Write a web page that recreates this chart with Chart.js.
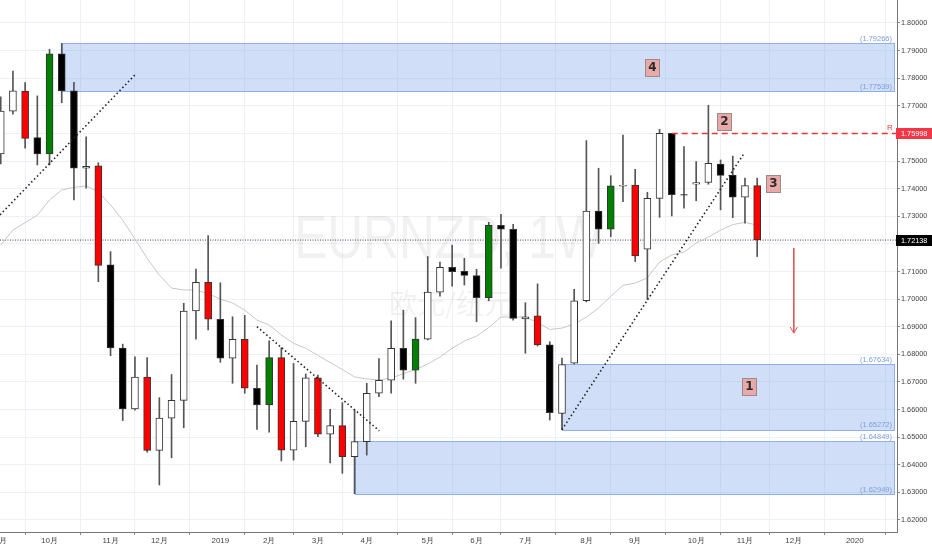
<!DOCTYPE html>
<html>
<head>
<meta charset="utf-8">
<script src="https://cdn.jsdelivr.net/npm/chart.js@4.4.0/dist/chart.umd.min.js"></script>
<style>
html, body { margin: 0; padding: 0; background: #fff; }
#wrap { width: 932px; height: 550px; }
</style>
</head>
<body>
<div id="wrap"><canvas id="chart" width="932" height="550"></canvas></div>
<script>
// weekly EURNZD candles, Sep 2018 -> Nov 2019
const opens  = [1.7526,1.7681,1.7753,1.7585,1.7526,1.7888,1.7754,1.7474,1.7483,1.7124,
                1.6823,1.6602,1.6718,1.6452,1.6569,1.6633,1.6957,1.7061,1.6927,1.6786,
                1.6854,1.6677,1.6617,1.6788,1.6453,1.6557,1.6715,1.6511,1.6542,1.6429,
                1.6484,1.6659,1.6706,1.6822,1.6743,1.6855,1.7025,1.7115,1.7101,1.7085,
                1.7005,1.7267,1.7253,1.6928,1.6939,1.6834,1.6586,1.6768,1.6994,1.7319,
                1.7253,1.7409,1.7413,1.7181,1.7365,1.7600,1.7379,1.7416,1.7423,1.7489,
                1.7449,1.7369,1.7411];
const highs  = [1.7733,1.7826,1.7784,1.7736,1.7905,1.7926,1.7785,1.7588,1.7494,1.7172,
                1.6837,1.6791,1.6788,1.6643,1.6727,1.6985,1.7109,1.7230,1.7059,1.6936,
                1.6941,1.6761,1.6849,1.6824,1.6767,1.6729,1.6725,1.6601,1.6625,1.6598,
                1.6695,1.6785,1.6921,1.6960,1.6933,1.7154,1.7134,1.7196,1.7148,1.7108,
                1.7278,1.7307,1.7271,1.6987,1.7055,1.6846,1.6786,1.7035,1.7574,1.7474,
                1.7447,1.7594,1.7470,1.7387,1.7615,1.7600,1.7552,1.7498,1.7702,1.7504,
                1.7518,1.7438,1.7438];
const lows   = [1.7490,1.7670,1.7547,1.7486,1.7486,1.7711,1.7359,1.7402,1.7063,1.6795,
                1.6560,1.6598,1.6446,1.6327,1.6425,1.6534,1.6855,1.6888,1.6771,1.6695,
                1.6659,1.6528,1.6518,1.6414,1.6417,1.6465,1.6502,1.6407,1.6369,1.6295,
                1.6435,1.6647,1.6659,1.6710,1.6695,1.6852,1.7011,1.7047,1.7051,1.6918,
                1.6994,1.7112,1.6924,1.6804,1.6830,1.6562,1.6527,1.6765,1.6990,1.7202,
                1.7226,1.7353,1.7136,1.6999,1.7296,1.7301,1.7329,1.7356,1.7416,1.7323,
                1.7295,1.7275,1.7154];
const closes = [1.7681,1.7754,1.7582,1.7526,1.7888,1.7754,1.7474,1.7481,1.7122,1.6823,
                1.6602,1.6718,1.6452,1.6569,1.6633,1.6957,1.7061,1.6927,1.6786,1.6854,
                1.6677,1.6617,1.6788,1.6453,1.6557,1.6715,1.6511,1.6542,1.6429,1.6484,
                1.6659,1.6706,1.6822,1.6743,1.6855,1.7025,1.7115,1.7099,1.7086,1.7005,
                1.7267,1.7253,1.6930,1.6936,1.6834,1.6589,1.6763,1.6994,1.7319,1.7253,
                1.7410,1.7412,1.7156,1.7365,1.7600,1.7378,1.7376,1.7422,1.7492,1.7448,
                1.7369,1.7411,1.7214];
// grey moving average
const maLine = [1.7196,1.7250,1.7277,1.7304,1.7359,1.7395,1.7405,1.7410,1.7388,1.7341,
                1.7286,1.7218,1.7148,1.7087,1.7040,1.7033,1.7033,1.7020,1.7000,1.6986,
                1.6960,1.6924,1.6906,1.6870,1.6840,1.6822,1.6796,1.6770,1.6745,1.6718,
                1.6711,1.6707,1.6714,1.6730,1.6745,1.6765,1.6790,1.6822,1.6848,1.6866,
                1.6897,1.6935,1.6935,1.6935,1.6915,1.6890,1.6895,1.6910,1.6935,1.6968,
                1.7010,1.7050,1.7058,1.7077,1.7134,1.7160,1.7170,1.7203,1.7225,1.7250,
                1.7270,1.7278,1.7268];
// highlighted weeks
const redWeeks   = [2, 8, 12, 17, 20, 23, 26, 28, 44, 52, 62];
const greenWeeks = [4, 22, 34, 40, 50];

const monthIdx = [0, 4, 9, 13, 18, 22, 26, 30, 35, 39, 43, 48, 52, 57, 61, 65, 70];
const monthLbl = ['9月','10月','11月','12月','2019','2月','3月','4月','5月','6月','7月','8月','9月','10月','11月','12月','2020'];
const yTicks = [1.62,1.63,1.64,1.65,1.66,1.67,1.68,1.69,1.70,1.71,1.72,1.73,1.74,1.75,1.76,1.77,1.78,1.79,1.80];

// drawn zones and notes
const zoneStart = [5, 46, 29];
const zoneLow   = [1.77539, 1.65272, 1.62949];
const zoneHigh  = [1.79266, 1.67634, 1.64849];
const trendA = [[-0.06, 1.7305], [11, 1.7812]];
const trendB = [[21, 1.6900], [31.03, 1.6523]];
const trendC = [[46, 1.6527], [60.9, 1.7526]];
const resistStart = 55, resistLevel = 1.75998;
const lastPrice = 1.72138;
const arrowIdx = 65, arrowFrom = 1.7185, arrowTo = 1.6877;
const tagText = ['4', '1', '2', '3'];
const tagIdx  = [53.38, 61.3, 59.3, 63.3];
const tagVal  = [1.7839, 1.6687, 1.7645, 1.7419];

const X_MIN = -0.06, X_MAX = 73.46;
const Y_MIN = 1.61565, Y_MAX = 1.80833;
const AXIS_FONT = '"Liberation Sans", Arial, sans-serif';

const bodyColor = opens.map((o, i) => {
  if (redWeeks.includes(i)) return '#ff0000';
  if (greenWeeks.includes(i)) return '#008000';
  return closes[i] >= o ? '#ffffff' : '#000000';
});

const pts = arr => arr.map(p => ({x: p[0], y: p[1]}));

const overlay = {
  id: 'overlay',
  beforeDatasetsDraw(chart) {
    const {ctx, chartArea: a, scales: {x, y}} = chart;
    const mid = (a.left + a.right) / 2;
    ctx.save();
    // watermark, squeezed a bit like the original font
    ctx.fillStyle = 'rgba(0,0,0,0.055)';
    ctx.textAlign = 'center';
    ctx.save();
    ctx.translate(mid, 258);
    ctx.scale(0.8, 1);
    ctx.font = '62px ' + AXIS_FONT;
    ctx.fillText('EURNZD, 1W', 0, 0);
    ctx.restore();
    ctx.font = '28px "Noto Sans CJK SC", sans-serif';
    ctx.fillText('欧元/纽元', mid + 2, 314);

    zoneStart.forEach((s, i) => {
      const x0 = Math.round(x.getPixelForValue(s)) + 0.5;
      const x1 = a.right - 2.5;
      const yt = Math.round(y.getPixelForValue(zoneHigh[i])) + 0.5;
      const yb = Math.round(y.getPixelForValue(zoneLow[i])) + 0.5;
      ctx.fillStyle = 'rgba(100,150,230,0.3)';
      ctx.fillRect(x0, yt, x1 - x0, yb - yt);
      ctx.strokeStyle = '#8fb0ea';
      ctx.lineWidth = 1;
      ctx.strokeRect(x0, yt, x1 - x0, yb - yt);
    });
    ctx.restore();
  },
  afterDatasetsDraw(chart) {
    const {ctx, chartArea: a, scales: {x, y}} = chart;
    ctx.save();
    // zone price labels
    ctx.font = '7.5px ' + AXIS_FONT;
    ctx.fillStyle = '#7b9ddb';
    ctx.textAlign = 'right';
    ctx.textBaseline = 'bottom';
    zoneStart.forEach((s, i) => {
      ctx.fillText('(' + zoneHigh[i].toFixed(5) + ')', a.right - 5, y.getPixelForValue(zoneHigh[i]) - 0.5);
      ctx.fillText('(' + zoneLow[i].toFixed(5) + ')', a.right - 5, y.getPixelForValue(zoneLow[i]) - 0.5);
    });
    // R
    ctx.fillStyle = '#e53935';
    ctx.font = '8px ' + AXIS_FONT;
    ctx.textAlign = 'center';
    ctx.fillText('R', a.right - 7, y.getPixelForValue(resistLevel) - 2);
    // number tags
    ctx.textBaseline = 'middle';
    ctx.font = 'bold 12px "DejaVu Sans", sans-serif';
    tagText.forEach((t, i) => {
      const cx = Math.round(x.getPixelForValue(tagIdx[i]));
      const cy = Math.round(y.getPixelForValue(tagVal[i]));
      ctx.fillStyle = '#eaa9a9';
      ctx.fillRect(cx - 7, cy - 8, 14, 17);
      ctx.strokeStyle = '#9a8a8a';
      ctx.lineWidth = 1;
      ctx.strokeRect(cx - 6.5, cy - 7.5, 14, 17);
      ctx.fillStyle = '#2b2b2b';
      ctx.fillText(t, cx + 0.5, cy + 1);
    });
    ctx.restore();
  },
  afterDraw(chart) {
    const {ctx, chartArea: a, scales: {y}} = chart;
    ctx.save();
    ctx.font = '7.3px ' + AXIS_FONT;
    ctx.textAlign = 'left';
    ctx.textBaseline = 'middle';
    [[resistLevel, '#f23645'], [lastPrice, '#000000']].forEach(([v, col]) => {
      const py = Math.round(y.getPixelForValue(v));
      ctx.fillStyle = col;
      ctx.fillRect(a.right - 1, py - 5, 36, 11);
      ctx.fillStyle = '#ffffff';
      ctx.fillText(v.toFixed(5), a.right + 4, py + 0.5);
    });
    ctx.restore();
  }
};

new Chart(document.getElementById('chart'), {
  type: 'bar',
  data: {
    datasets: [
      {
        type: 'line', order: 0,
        data: pts(trendA), borderColor: '#222', borderWidth: 1.6, borderDash: [1.5, 2.6],
        pointRadius: 0
      },
      {
        type: 'line', order: 0,
        data: pts(trendB), borderColor: '#222', borderWidth: 1.6, borderDash: [1.5, 2.6],
        pointRadius: 0
      },
      {
        type: 'line', order: 0,
        data: pts(trendC), borderColor: '#222', borderWidth: 1.6, borderDash: [1.5, 2.6],
        pointRadius: 0
      },
      {
        type: 'line', order: 0,
        data: [{x: resistStart, y: resistLevel}, {x: X_MAX, y: resistLevel}],
        borderColor: '#e53935', borderWidth: 1.3, borderDash: [6, 4], pointRadius: 0
      },
      {
        type: 'line', order: 0,
        data: [{x: arrowIdx, y: arrowFrom}, {x: arrowIdx, y: arrowTo}],
        borderColor: '#e25555', borderWidth: 1, pointRadius: 0
      },
      {
        type: 'line', order: 0,
        data: [{x: arrowIdx - 0.3, y: arrowTo + 0.0022}, {x: arrowIdx, y: arrowTo}, {x: arrowIdx + 0.3, y: arrowTo + 0.0022}],
        borderColor: '#e25555', borderWidth: 1, pointRadius: 0
      },
      {
        type: 'line', order: 4,
        data: [{x: X_MIN, y: lastPrice}, {x: X_MAX, y: lastPrice}],
        borderColor: '#444', borderWidth: 1, borderDash: [1, 1.5], pointRadius: 0
      },
      {
        label: 'bodies', order: 1,
        data: opens.map((o, i) => ({x: i, y: [Math.min(o, closes[i]), Math.max(o, closes[i])]})),
        backgroundColor: bodyColor,
        borderColor: '#333',
        borderWidth: 1,
        borderSkipped: false,
        barThickness: 7,
        grouped: false
      },
      {
        label: 'wicks', order: 2,
        data: lows.map((l, i) => ({x: i, y: [l, highs[i]]})),
        backgroundColor: '#555',
        barThickness: 1,
        grouped: false
      },
      {
        type: 'line', order: 3,
        data: maLine.map((v, i) => ({x: i, y: v})),
        borderColor: '#c8c8c8', borderWidth: 1, pointRadius: 0, tension: 0
      }
    ]
  },
  options: {
    responsive: false,
    animation: false,
    events: [],
    layout: { padding: 0 },
    plugins: { legend: { display: false }, tooltip: { enabled: false } },
    scales: {
      x: {
        type: 'linear',
        min: X_MIN, max: X_MAX,
        offset: false,
        afterBuildTicks: s => { s.ticks = monthIdx.map(v => ({value: v})); },
        afterFit: s => { s.height = 18; s.paddingLeft = 0; s.paddingRight = 0; },
        ticks: {
          autoSkip: false, maxRotation: 0, padding: 1,
          font: { family: AXIS_FONT, size: 8 }, color: '#444',
          callback: v => monthLbl[monthIdx.indexOf(v)]
        },
        grid: { color: '#ebf1f6', tickLength: 3, tickColor: '#888' },
        border: { display: true, color: '#777', width: 1 }
      },
      y: {
        position: 'right',
        min: Y_MIN, max: Y_MAX,
        afterBuildTicks: s => { s.ticks = yTicks.map(v => ({value: v})); },
        afterFit: s => { s.width = 35; s.paddingTop = 0; s.paddingBottom = 0; },
        ticks: {
          padding: 1,
          font: { family: AXIS_FONT, size: 7.3 }, color: '#444',
          callback: v => v.toFixed(5)
        },
        grid: { color: '#ebf1f6', tickLength: 3, tickColor: '#888' },
        border: { display: true, color: '#777', width: 1 }
      }
    }
  },
  plugins: [overlay]
});
</script>
</body>
</html>
